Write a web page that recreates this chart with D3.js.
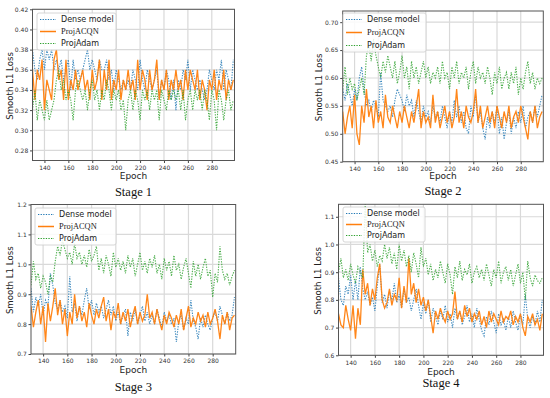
<!DOCTYPE html>
<html><head><meta charset="utf-8">
<script src="https://cdn.jsdelivr.net/npm/d3@7"></script>
<style>body{margin:0;background:#fff}svg{display:block}</style>
</head><body>
<svg id="c" width="550" height="398"></svg>
<script>
// Epochs sampled every 2 epochs from 130 to 298
const epochs = d3.range(130, 299, 2);
const seriesNames = ["Dense model", "ProjACQN", "ProjAdam"];
const stageTitles = ["Stage 1", "Stage 2", "Stage 3", "Stage 4"];
const xTicks = [140, 160, 180, 200, 220, 240, 260, 280];
const yTicks1 = [0.28, 0.30, 0.32, 0.34, 0.36, 0.38, 0.40, 0.42];
const yTicks2 = [0.45, 0.50, 0.55, 0.60, 0.65, 0.70];
const yTicks3 = [0.7, 0.8, 0.9, 1.0, 1.1, 1.2];
const yTicks4 = [0.6, 0.7, 0.8, 0.9, 1.0, 1.1];

const dense1 = [0.38,0.36,0.35,0.37,0.38,0.36,0.38,0.37,0.38,0.36,0.37,
0.36,0.37,0.35,0.36,0.37,0.34,0.37,0.35,0.36,
0.35,0.36,0.37,0.38,0.36,0.37,0.36,0.35,0.37,0.36,
0.36,0.37,0.35,0.36,0.34,0.36,0.35,0.34,0.35,0.34,
0.35,0.34,0.36,0.35,0.34,0.37,0.35,0.34,0.36,0.35,
0.34,0.35,0.36,0.33,0.35,0.34,0.36,0.35,0.33,0.35,
0.32,0.35,0.34,0.36,0.35,0.37,0.34,0.36,0.35,0.34,
0.35,0.34,0.33,0.34,0.36,0.35,0.34,0.36,0.35,0.37,
0.34,0.36,0.35,0.34,0.37];
const acqn1 = [0.36,0.33,0.36,0.35,0.37,0.32,0.35,0.34,0.33,0.37,0.38,
0.35,0.36,0.33,0.37,0.33,0.35,0.34,0.36,0.34,
0.35,0.36,0.34,0.35,0.33,0.36,0.34,0.35,0.37,0.33,
0.36,0.34,0.37,0.33,0.35,0.34,0.36,0.33,0.35,0.34,
0.36,0.34,0.35,0.33,0.37,0.34,0.36,0.35,0.33,0.36,
0.34,0.35,0.37,0.33,0.35,0.34,0.36,0.33,0.35,0.34,
0.36,0.34,0.35,0.33,0.36,0.34,0.36,0.35,0.34,0.36,
0.33,0.35,0.34,0.32,0.35,0.34,0.36,0.33,0.35,0.34,
0.36,0.33,0.35,0.34,0.35];
const adam1 = [0.32,0.34,0.31,0.33,0.32,0.31,0.33,0.31,0.32,0.33,0.35,
0.36,0.34,0.35,0.33,0.34,0.33,0.31,0.34,0.35,
0.34,0.33,0.34,0.32,0.34,0.35,0.33,0.34,0.32,0.34,
0.33,0.35,0.34,0.32,0.34,0.33,0.34,0.32,0.33,0.30,
0.33,0.34,0.32,0.34,0.33,0.31,0.34,0.33,0.34,0.32,
0.34,0.33,0.34,0.31,0.34,0.33,0.32,0.34,0.33,0.34,
0.33,0.34,0.32,0.34,0.31,0.33,0.34,0.32,0.34,0.33,
0.34,0.32,0.34,0.33,0.31,0.34,0.33,0.30,0.34,0.33,
0.31,0.33,0.34,0.32,0.33];

const dense2 = [0.58,0.56,0.59,0.57,0.55,0.58,0.56,0.60,0.62,0.58,0.55,
0.56,0.54,0.56,0.55,0.53,0.61,0.56,0.55,0.54,
0.55,0.53,0.56,0.58,0.57,0.56,0.54,0.57,0.55,0.56,
0.53,0.56,0.54,0.52,0.55,0.53,0.54,0.52,0.55,0.53,
0.54,0.52,0.55,0.53,0.51,0.54,0.52,0.56,0.53,0.55,
0.52,0.54,0.51,0.50,0.55,0.53,0.57,0.52,0.54,0.51,
0.49,0.53,0.51,0.54,0.52,0.55,0.50,0.53,0.49,0.52,
0.54,0.50,0.53,0.51,0.54,0.52,0.55,0.51,0.53,0.54,
0.52,0.55,0.53,0.55,0.57];
const acqn2 = [0.54,0.50,0.53,0.55,0.51,0.57,0.50,0.48,0.55,0.52,0.58,
0.53,0.55,0.51,0.56,0.52,0.54,0.51,0.57,0.53,
0.52,0.55,0.53,0.51,0.54,0.52,0.55,0.53,0.51,0.54,
0.52,0.55,0.58,0.51,0.54,0.52,0.53,0.51,0.57,0.52,
0.54,0.51,0.53,0.55,0.52,0.54,0.51,0.53,0.58,0.52,
0.54,0.51,0.55,0.53,0.52,0.54,0.58,0.52,0.55,0.51,
0.53,0.55,0.52,0.54,0.51,0.55,0.53,0.51,0.54,0.52,
0.55,0.51,0.53,0.54,0.52,0.55,0.53,0.51,0.49,0.54,
0.52,0.55,0.51,0.53,0.54];
const adam2 = [0.58,0.62,0.57,0.60,0.58,0.59,0.56,0.58,0.60,0.57,0.64,
0.66,0.63,0.67,0.64,0.62,0.60,0.63,0.61,0.64,
0.62,0.60,0.63,0.59,0.61,0.64,0.60,0.62,0.58,0.63,
0.60,0.62,0.59,0.61,0.63,0.60,0.62,0.59,0.61,0.60,
0.62,0.59,0.63,0.60,0.61,0.58,0.62,0.60,0.63,0.59,
0.61,0.60,0.62,0.58,0.61,0.63,0.59,0.62,0.60,0.61,
0.59,0.62,0.60,0.57,0.61,0.59,0.62,0.58,0.60,0.61,
0.58,0.61,0.59,0.62,0.57,0.60,0.58,0.61,0.63,0.59,
0.61,0.58,0.60,0.59,0.60];

const dense3 = [0.92,0.84,0.89,0.86,0.90,0.83,0.88,0.86,0.97,0.93,0.87,
0.85,0.88,0.84,0.86,0.82,0.96,0.84,0.87,0.81,
0.86,0.83,0.88,0.92,0.85,0.88,0.83,0.87,0.84,0.86,
0.82,0.85,0.88,0.83,0.86,0.81,0.84,0.80,0.83,0.85,
0.76,0.84,0.81,0.85,0.80,0.83,0.86,0.81,0.84,0.80,
0.83,0.80,0.85,0.82,0.79,0.84,0.81,0.83,0.80,0.82,
0.74,0.81,0.83,0.78,0.82,0.80,0.88,0.81,0.79,0.75,
0.82,0.79,0.83,0.80,0.78,0.82,0.84,0.81,0.86,0.83,
0.80,0.84,0.81,0.83,0.89];
const acqn3 = [0.86,0.79,0.84,0.88,0.80,0.86,0.74,0.87,0.81,0.86,0.92,
0.83,0.88,0.80,0.85,0.76,0.84,0.80,0.90,0.82,
0.86,0.81,0.84,0.79,0.87,0.83,0.80,0.85,0.82,0.86,
0.89,0.81,0.85,0.78,0.84,0.82,0.87,0.80,0.84,0.81,
0.85,0.79,0.83,0.86,0.80,0.84,0.81,0.83,0.90,0.82,
0.84,0.80,0.85,0.81,0.78,0.83,0.80,0.84,0.82,0.79,
0.83,0.80,0.85,0.78,0.82,0.86,0.79,0.82,0.80,0.84,
0.81,0.83,0.79,0.84,0.80,0.82,0.85,0.81,0.75,0.83,
0.80,0.84,0.78,0.82,0.83];
const adam3 = [0.93,1.01,0.95,0.97,0.92,0.96,0.94,0.90,0.96,0.94,1.01,
1.06,1.03,1.08,1.05,1.02,1.04,1.00,1.07,1.02,
1.04,1.00,1.03,0.99,1.05,1.01,1.03,1.06,0.98,1.02,
0.97,1.03,1.00,0.96,1.04,0.99,1.02,0.98,1.01,0.97,
1.03,0.99,1.02,0.96,1.00,1.04,0.98,1.01,0.97,1.02,
0.99,1.03,0.97,1.00,0.95,1.02,0.98,1.01,0.96,1.03,
0.98,1.00,0.95,0.99,1.02,0.97,0.92,1.01,0.96,1.00,
0.95,0.99,1.02,0.96,0.98,0.89,0.97,0.94,1.06,0.98,
0.95,0.97,0.93,0.96,0.98];

const dense4 = [0.88,0.80,0.78,0.85,0.82,0.89,0.80,0.87,0.80,0.92,0.84,
0.80,0.83,0.78,0.81,0.76,0.85,0.93,0.79,0.82,
0.77,0.83,0.80,0.86,0.79,0.82,0.77,0.84,0.79,0.81,
0.76,0.80,0.84,0.78,0.73,0.79,0.75,0.80,0.72,0.77,
0.74,0.71,0.76,0.73,0.78,0.72,0.75,0.70,0.77,0.73,
0.76,0.71,0.74,0.78,0.72,0.75,0.70,0.77,0.73,0.69,
0.67,0.74,0.71,0.76,0.72,0.68,0.75,0.71,0.73,0.69,
0.74,0.70,0.76,0.72,0.69,0.75,0.71,0.82,0.73,0.70,
0.74,0.71,0.76,0.72,0.80];
const acqn4 = [0.75,0.71,0.70,0.78,0.73,0.69,0.78,0.66,0.77,0.71,0.91,
0.82,0.86,0.78,0.84,0.80,0.88,0.93,0.80,0.77,
0.79,0.84,0.78,0.82,0.80,0.88,0.77,0.85,0.79,0.95,
0.82,0.86,0.79,0.84,0.78,0.81,0.76,0.80,0.74,0.68,
0.76,0.73,0.77,0.74,0.72,0.76,0.73,0.75,0.83,0.73,
0.76,0.72,0.78,0.74,0.77,0.72,0.75,0.73,0.76,0.71,
0.74,0.70,0.76,0.72,0.75,0.73,0.71,0.76,0.72,0.74,
0.73,0.76,0.71,0.74,0.72,0.75,0.70,0.67,0.74,0.72,
0.75,0.71,0.73,0.69,0.75];
const adam4 = [0.90,0.95,0.88,0.91,0.87,0.93,0.89,0.86,0.92,0.90,0.88,
1.15,0.97,1.00,0.94,0.98,0.92,0.96,0.94,1.00,
0.95,0.99,0.93,0.97,0.91,1.00,0.94,0.98,0.92,0.96,
0.90,0.97,0.93,0.88,0.99,0.92,0.95,0.89,0.93,0.87,
0.91,0.88,0.94,0.90,0.86,0.93,0.89,0.82,0.92,0.88,
0.94,0.87,0.91,0.89,0.93,0.86,0.90,0.92,0.88,0.91,
0.87,0.93,0.89,0.85,0.91,0.88,0.94,0.86,0.90,0.92,
0.87,0.91,0.85,0.89,0.93,0.86,0.90,0.80,0.94,0.88,
0.85,0.89,0.87,0.86,0.88];

const colors = ["#1f77b4", "#ff7f0e", "#2ca02c"];

const panels = [
  {L:32.5, R:234.5, T:9.3, B:160.5, ymin:0.27, ymax:0.42, ticks:yTicks1, fmt:".2f",
   series:[dense1, acqn1, adam1], title:stageTitles[0], titleY:195.5, epochY:178.5, ylabX:9.5, leg:{x:37,y:13,w:79,h:37}},
  {L:342.7, R:543.3, T:11, B:161.7, ymin:0.45, ymax:0.72, ticks:yTicks2, fmt:".2f",
   series:[dense2, acqn2, adam2], title:stageTitles[1], titleY:194.5, epochY:179, ylabX:319, leg:{x:343,y:13,w:83,h:39}},
  {L:31, R:235.7, T:204.5, B:354, ymin:0.7, ymax:1.2, ticks:yTicks3, fmt:".1f",
   series:[dense3, acqn3, adam3], title:stageTitles[2], titleY:391, epochY:372.5, ylabX:9.5, leg:{x:35,y:208,w:81,h:37}},
  {L:338.5, R:543.5, T:204.3, B:355.3, ymin:0.6, ymax:1.145, ticks:yTicks4, fmt:".1f",
   series:[dense4, acqn4, adam4], title:stageTitles[3], titleY:387, epochY:375, ylabX:318, leg:{x:343,y:207,w:82,h:35}}
];

const svg = d3.select("#c");

panels.forEach((p, pi) => {
  const x = d3.scaleLinear().domain([130, 299]).range([p.L, p.R]);
  const y = d3.scaleLinear().domain([p.ymin, p.ymax]).range([p.B, p.T]);
  const g = svg.append("g");

  // grid
  g.append("g").selectAll("line").data(xTicks).join("line")
    .attr("x1", d => x(d)).attr("x2", d => x(d)).attr("y1", p.T).attr("y2", p.B)
    .attr("stroke", "#d9d9d9").attr("stroke-width", 1.2);
  g.append("g").selectAll("line").data(p.ticks).join("line")
    .attr("y1", d => y(d)).attr("y2", d => y(d)).attr("x1", p.L).attr("x2", p.R)
    .attr("stroke", "#d9d9d9").attr("stroke-width", 1.2);

  // clip
  const cid = "clip" + pi;
  svg.append("clipPath").attr("id", cid).append("rect")
    .attr("x", p.L).attr("y", p.T).attr("width", p.R - p.L).attr("height", p.B - p.T);

  const line = d3.line().x((d, i) => x(epochs[i])).y(d => y(d));
  const lg = g.append("g").attr("clip-path", `url(#${cid})`);
  p.series.forEach((s, si) => {
    lg.append("path").datum(s).attr("d", line).attr("fill", "none")
      .attr("stroke", colors[si])
      .attr("stroke-width", si === 1 ? 1.3 : 1.1)
      .attr("stroke-dasharray", si === 1 ? null : "1.3,1.3")
      .attr("opacity", si === 1 ? 0.95 : 0.85);
  });

  // axes
  const xa = g.append("g").attr("transform", `translate(0,${p.B})`)
    .call(d3.axisBottom(x).tickValues(xTicks).tickSize(2.5).tickPadding(2.5).tickFormat(d3.format("d")));
  const ya = g.append("g").attr("transform", `translate(${p.L},0)`)
    .call(d3.axisLeft(y).tickValues(p.ticks).tickSize(2.5).tickPadding(1.8).tickFormat(d3.format(p.fmt)));
  [xa, ya].forEach(a => {
    a.select(".domain").remove();
    a.selectAll("line").attr("stroke", "#444");
    a.selectAll("text").attr("font-family", "DejaVu Sans").attr("font-size", 6).attr("fill", "#333");
  });

  // frame
  g.append("rect").attr("x", p.L).attr("y", p.T).attr("width", p.R - p.L).attr("height", p.B - p.T)
    .attr("fill", "none").attr("stroke", "#555").attr("stroke-width", 1);

  // labels
  const cx = (p.L + p.R) / 2;
  g.append("text").attr("x", cx).attr("y", p.epochY).attr("text-anchor", "middle")
    .attr("font-family", "DejaVu Sans").attr("font-size", 9).attr("fill", "#222").text("Epoch");
  g.append("text").attr("transform", `translate(${p.ylabX + 3.3},${(p.T + p.B) / 2 + 1}) rotate(-90)`)
    .attr("text-anchor", "middle").attr("font-family", "DejaVu Sans").attr("font-size", 8.6)
    .attr("fill", "#222").text("Smooth L1 Loss");
  g.append("text").attr("x", cx).attr("y", p.titleY).attr("text-anchor", "middle")
    .attr("font-family", "Liberation Serif").attr("font-size", 12.5).attr("fill", "#111").text(p.title);

  // legend
  const L = p.leg;
  const leg = g.append("g");
  leg.append("rect").attr("x", L.x).attr("y", L.y).attr("width", L.w).attr("height", L.h)
    .attr("rx", 2).attr("fill", "#fff").attr("fill-opacity", 0.85).attr("stroke", "#ccc").attr("stroke-width", 0.8);
  seriesNames.forEach((n, si) => {
    const yy = L.y + 6.5 + si * (L.h - 13) / 2;
    leg.append("line").attr("x1", L.x + 3).attr("x2", L.x + 19).attr("y1", yy).attr("y2", yy)
      .attr("stroke", colors[si]).attr("stroke-width", si === 1 ? 1.5 : 1.1)
      .attr("stroke-dasharray", si === 1 ? null : "1.3,1.3");
    const serif = si === 1;
    leg.append("text").attr("x", L.x + 24).attr("y", yy + (serif ? 2.8 : 2.9))
      .attr("font-family", serif ? "Liberation Serif" : "DejaVu Sans")
      .attr("font-size", serif ? 8.4 : 8).attr("fill", "#222").text(n);
  });
});
</script>
</body></html>
